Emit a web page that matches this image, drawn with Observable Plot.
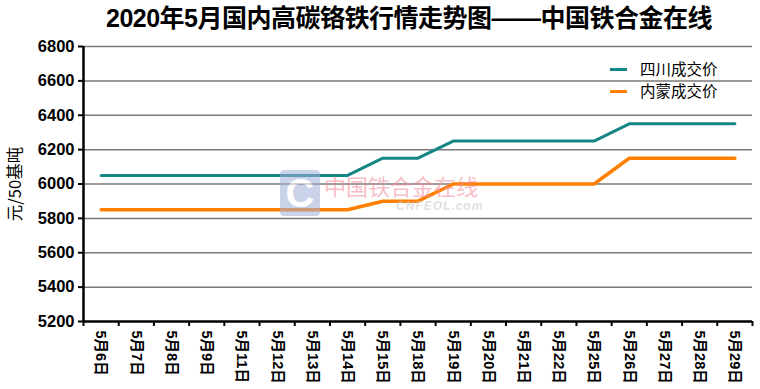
<!DOCTYPE html>
<html><head><meta charset="utf-8">
<script src="https://cdn.jsdelivr.net/npm/d3@7"></script>
<script src="https://cdn.jsdelivr.net/npm/@observablehq/plot@0.6"></script>
<style>
body{margin:0;background:#fff;font-family:"Liberation Sans",Arial,sans-serif;}
#wrap{position:relative;width:760px;height:389px;overflow:hidden;}
#title{height:36px;line-height:36px;text-align:center;padding-left:58px;font-family:"Liberation Sans","Noto Sans CJK SC",sans-serif;font-weight:bold;font-size:25px;color:#000;letter-spacing:-0.5px;}
.leg{position:absolute;left:610px;font-family:"Noto Sans CJK SC",sans-serif;font-size:15.5px;color:#000;}
.leg span{display:inline-block;width:17px;height:3px;vertical-align:middle;margin-right:13px;position:relative;top:-1px;}
#wm{position:absolute;left:280px;top:170px;opacity:0.55;pointer-events:none;}
</style></head><body>
<div id="wrap">
<div id="title">2020年5月国内高碳铬铁行情走势图——中国铁合金在线</div>
<div id="chart"></div>
<div class="leg" style="top:57px"><span style="background:#168585"></span>四川成交价</div>
<div class="leg" style="top:79px"><span style="background:#ff8000"></span>内蒙成交价</div>
<div id="wm">
  <div style="position:absolute;left:0;top:0;width:40px;height:46px;background:#9fb0d8;border-radius:4px;color:#fff;font:bold 40px 'Liberation Sans';line-height:46px;text-align:center;">C</div>
  <div style="position:absolute;left:44px;top:2px;white-space:nowrap;color:#f08a96;font:22px 'Noto Sans CJK SC';line-height:26px;">中国铁合金在线</div>
  <div style="position:absolute;left:116px;top:29px;white-space:nowrap;color:#c8c8c8;font:italic bold 12px 'Liberation Sans';letter-spacing:1px;">CNFEOL.com</div>
</div>
</div>
<script>
const dates = ["5月6日","5月7日","5月8日","5月9日","5月11日","5月12日","5月13日","5月14日","5月15日","5月18日","5月19日","5月20日","5月21日","5月22日","5月25日","5月26日","5月27日","5月28日","5月29日"];
const sichuan = [6050,6050,6050,6050,6050,6050,6050,6050,6150,6150,6250,6250,6250,6250,6250,6350,6350,6350,6350];
const neimeng = [5850,5850,5850,5850,5850,5850,5850,5850,5900,5900,6000,6000,6000,6000,6000,6150,6150,6150,6150];
const yTicks = [5200,5400,5600,5800,6000,6200,6400,6600,6800];

const rows = dates.map((d,i)=>({i:i+0.5, d, s:sichuan[i], n:neimeng[i]}));
const edges = d3.range(dates.length+1);

const chart = Plot.plot({
  width:760, height:353,
  marginTop:10, marginBottom:68, marginLeft:83, marginRight:8,
  x:{type:"linear", domain:[0,dates.length]},
  y:{type:"linear", domain:[5200,6800]},
  marks:[
    Plot.ruleY(yTicks.filter(v=>v>5200), {y:d=>d, stroke:"#7a7a7a", strokeWidth:1.5}),
    Plot.line(rows,{x:"i",y:"s",stroke:"#168585",strokeWidth:3}),
    Plot.line(rows,{x:"i",y:"n",stroke:"#ff8000",strokeWidth:3.5}),
    Plot.ruleY([5200],{stroke:"#000",strokeWidth:2.5}),
    Plot.ruleX([0],{stroke:"#000",strokeWidth:2.5}),
    Plot.axisY({ticks:yTicks, tickSize:5, tickPadding:4, tickFormat:d=>String(d), fontSize:16.5, fontWeight:"bold", fill:"#000", stroke:"#000", strokeWidth:2, fontFamily:"Liberation Sans", label:null}),
    Plot.axisX({ticks:edges, tickSize:5, tickFormat:()=>"", stroke:"#000", strokeWidth:2, label:null}),
    Plot.text(rows,{x:"i", frameAnchor:"bottom", dy:9, rotate:90, textAnchor:"start", lineAnchor:"middle", text:"d", fontSize:14.5, fontWeight:"bold", fill:"#000", fontFamily:"Liberation Sans, Noto Sans CJK SC"}),
    Plot.text(["元/50基吨"],{frameAnchor:"left", dx:-68, rotate:-90, textAnchor:"middle", text:d=>d, fontSize:16.5, fill:"#000", fontFamily:"Noto Sans CJK SC, Liberation Sans"})
  ]
});
document.getElementById("chart").append(chart);
</script>
</body></html>
